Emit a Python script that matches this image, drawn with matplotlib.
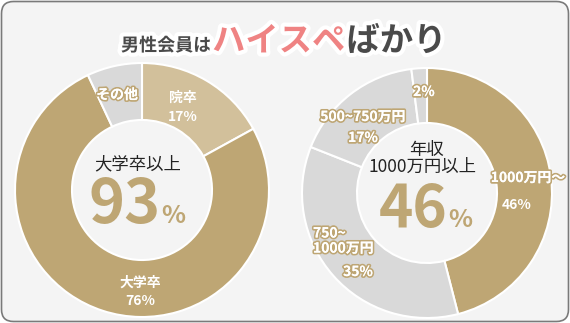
import matplotlib
matplotlib.use("Agg")
import matplotlib.pyplot as plt
from matplotlib.patches import FancyBboxPatch
import matplotlib.patheffects as pe

plt.rcParams['font.family'] = ['Noto Sans CJK JP', 'DejaVu Sans']

# ---- data ----
edu_labels = ["院卒", "大学卒", "その他"]
edu_values = [17, 76, 7]

income_labels = ["1000万円～", "750~\n1000万円", "500~750万円", ""]
income_values = [46, 35, 17, 2]

title_parts = ["男性会員は", "ハイスペ", "ばかり"]

# ---- style ----
TAN = "#bea674"
TAN_LIGHT = "#d2c09b"
GRAY = "#d9d9d9"
BG = "#f4f4f4"
DARK = "#222222"
TITLE_GRAY = "#4a4a4a"
PINK = "#ef8383"

W, H = 570, 323
fig = plt.figure(figsize=(W / 100, H / 100), dpi=100, facecolor="white")
ax = fig.add_axes([0, 0, 1, 1])


def Y(y):
    return H - y


# rounded panel
panel = FancyBboxPatch((1.5, 1.5), W - 3, H - 3,
                       boxstyle="round,pad=0,rounding_size=12",
                       facecolor=BG, edgecolor="#7a7a7a", linewidth=1.2,
                       zorder=0)
ax.add_patch(panel)

# ---- left donut: education ----
c1, r1, rin1 = (142, Y(190)), 127, 70
ax.pie(edu_values, colors=[TAN_LIGHT, TAN, GRAY], startangle=90,
       counterclock=False, center=c1, radius=r1, frame=True,
       wedgeprops=dict(width=r1 - rin1, edgecolor="white", linewidth=1.5))

# ---- right donut: income ----
c2, r2, rin2 = (427, Y(193)), 125, 70
ax.pie(income_values, colors=[TAN, GRAY, GRAY, GRAY], startangle=90,
       counterclock=False, center=c2, radius=r2, frame=True,
       wedgeprops=dict(width=r2 - rin2, edgecolor="white", linewidth=1.5))

ax.set_xlim(0, W)
ax.set_ylim(0, H)
ax.set_aspect("equal")
ax.axis("off")

outline = [pe.withStroke(linewidth=2.5, foreground=TAN), pe.Normal()]
LBL = 10


def label(x, y, s, ha="center", stroked=False, **kw):
    ax.text(x, Y(y), s, color="white", fontsize=LBL, fontweight="bold",
            ha=ha, va="center", path_effects=outline if stroked else None, **kw)


# slice labels, left
label(183, 98, edu_labels[0])
label(183, 117, f"{edu_values[0]}%")
label(140, 283, edu_labels[1])
label(140, 301, f"{edu_values[1]}%")
label(117, 95, edu_labels[2], stroked=True)

# slice labels, right
label(528, 178, income_labels[0], stroked=True)
label(517, 205, f"{income_values[0]}%")
label(313, 241, income_labels[1], ha="left", stroked=True, linespacing=1.1)
label(358, 272, f"{income_values[1]}%", stroked=True)
label(363, 117, income_labels[2], stroked=True)
label(363, 138, f"{income_values[2]}%", stroked=True)
label(424, 92, f"{income_values[3]}%", stroked=True)

# centre captions
ax.text(138, Y(164), "大学卒以上", color=DARK, fontsize=12.5,
        ha="center", va="center")
ax.text(161, Y(223), f"{edu_values[0] + edu_values[1]}", color=TAN,
        fontsize=44, fontweight="bold", ha="right", va="baseline")
ax.text(161, Y(223), "%", color=TAN, fontsize=18, fontweight="bold",
        ha="left", va="baseline")

ax.text(427, Y(150), "年収", color=DARK, fontsize=12.5,
        ha="center", va="center")
ax.text(423, Y(167), "1000万円以上", color=DARK, fontsize=12.5,
        ha="center", va="center")
ax.text(448, Y(227), f"{income_values[0]}", color=TAN, fontsize=42,
        fontweight="bold", ha="right", va="baseline")
ax.text(448, Y(227), "%", color=TAN, fontsize=18, fontweight="bold",
        ha="left", va="baseline")

# ---- title, chained left to right ----
title_halo = [pe.withStroke(linewidth=6, foreground="white")]
renderer = fig.canvas.get_renderer()
x = 121
specs = [(title_parts[0], TITLE_GRAY, 13), (title_parts[1], PINK, 24),
         (title_parts[2], TITLE_GRAY, 24)]
inv = ax.transData.inverted()
for txt, col, size in specs:
    t = ax.text(x, Y(51), txt, color=col, fontsize=size, fontweight="bold",
                ha="left", va="baseline", path_effects=title_halo, zorder=5)
    bb = t.get_window_extent(renderer=renderer)
    x = inv.transform((bb.x1, bb.y0))[0] + 1

fig.savefig("out.png", dpi=100, facecolor="white")
